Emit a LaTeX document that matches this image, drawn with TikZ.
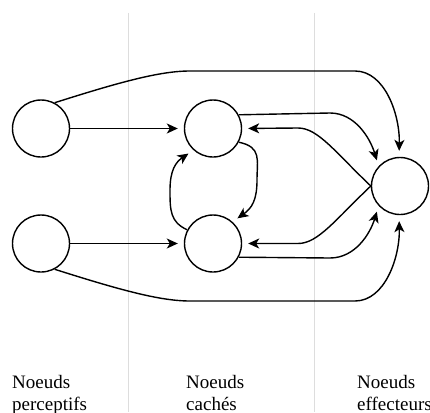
\documentclass[tikz,border=0pt]{standalone}
\usepackage{fontspec}
\setmainfont{Liberation Serif}
\usetikzlibrary{arrows.meta}
\definecolor{sep}{HTML}{DDDDDD}
\tikzset{
  neur/.style={circle, draw, line width=1.4pt, minimum size=57pt, inner sep=0pt},
  arr/.style={line width=1.4pt, -{Stealth[length=11pt,width=10pt,inset=3pt]}, shorten >=6pt},
  sepline/.style={draw=sep, line width=0.8pt},
  lbl/.style={anchor=base west, align=left, inner sep=0pt, font=\fontsize{19}{22}\selectfont}
}
\begin{document}
\begin{tikzpicture}[x=1pt,y=-1pt]
\useasboundingbox (0,0) rectangle (430,412);
\coordinate (s1t) at (128,13); \coordinate (s1b) at (128,412);
\coordinate (s2t) at (314,13); \coordinate (s2b) at (314,412);
\draw[sepline] (s1t) -- (s1b);
\draw[sepline] (s2t) -- (s2b);
\node[neur] (LT) at (41,128.5) {};
\node[neur] (LB) at (41,243.5) {};
\node[neur] (MT) at (213,128.5) {};
\node[neur] (MB) at (213,243.5) {};
\node[neur] (R) at (400,186) {};
\draw[arr] (LT) -- (MT);
\draw[arr] (LB) -- (MB);
\draw[arr] (LT.62) .. controls (120,82) and (160,71) .. (190,71) -- (355,71) .. controls (385,71) and (400,115) .. (R.92);
\draw[arr] (LB.-62) .. controls (120,290) and (160,301) .. (190,301) -- (355,301) .. controls (385,301) and (400,257) .. (R.-92);
\draw[arr] (MT.28) -- (330,113) .. controls (355,113) and (370,138) .. (R.137);
\draw[arr] (MB.-28) -- (330,258) .. controls (355,258) and (370,234) .. (R.-137);
\draw[arr] (R.west) .. controls (335,152) and (318,128) .. (298,128) -- (MT.east);
\draw[arr] (R.west) .. controls (335,220) and (318,243.5) .. (298,243.5) -- (MB.east);
\draw[arr] (MT.-28) .. controls (262,147) and (257,160) .. (257,180) .. controls (257,200) and (252,208) .. (MB.48);
\draw[arr] (MB.152) .. controls (170,222) and (170,210) .. (170,190) .. controls (170,170) and (176,162) .. (MT.-132);
\node[lbl] (t1) at (12,410) {Noeuds\\perceptifs};
\node[lbl] (t2) at (186,410) {Noeuds\\cachés};
\node[lbl] (t3) at (357,410) {Noeuds\\effecteurs};
\end{tikzpicture}
\end{document}
